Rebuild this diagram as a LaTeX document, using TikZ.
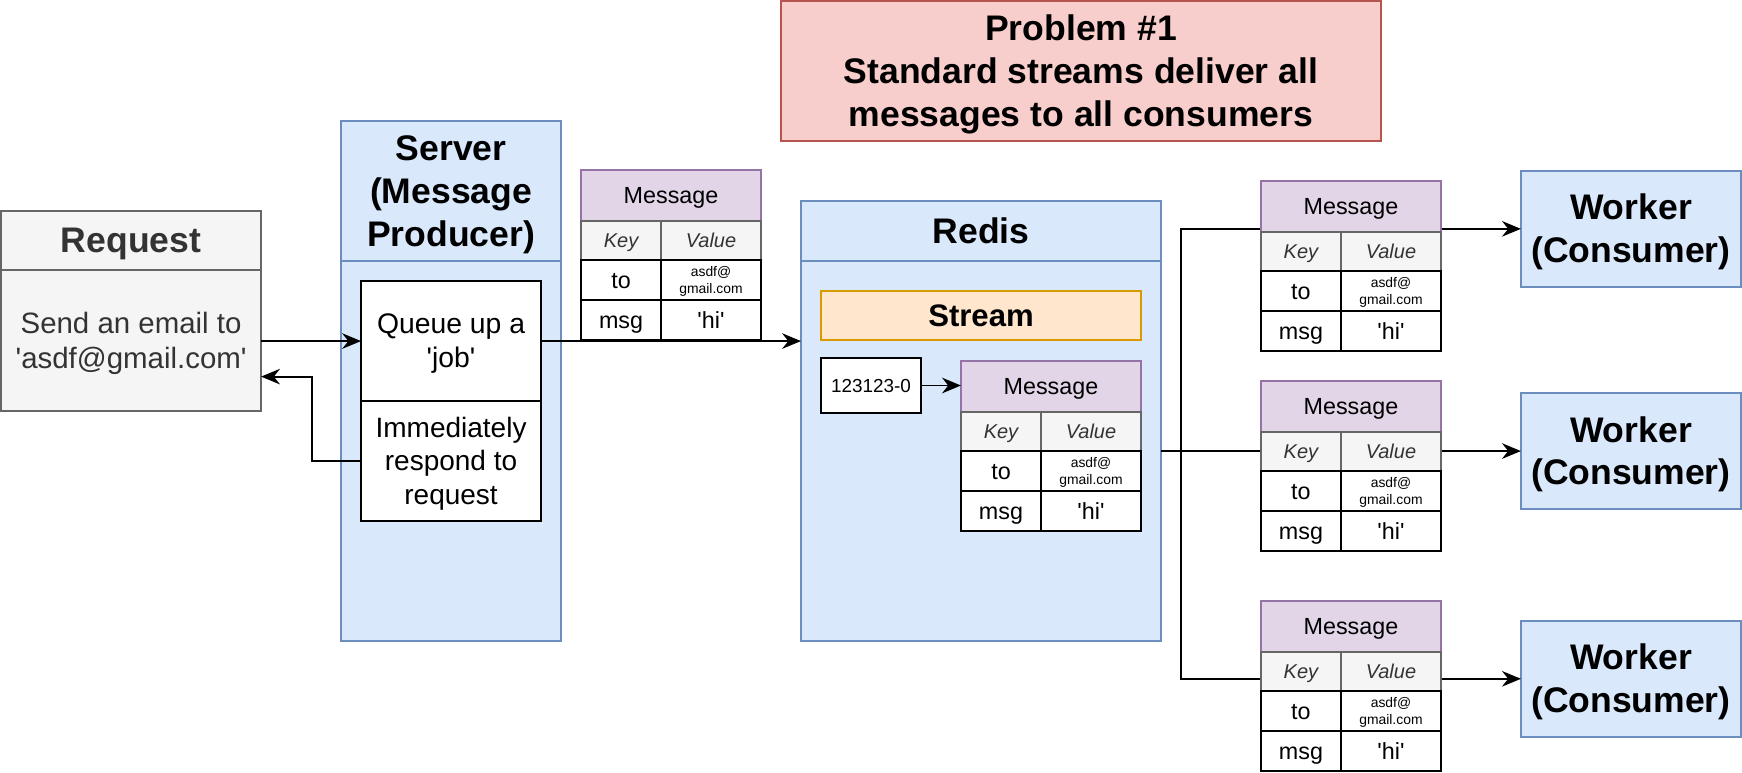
\documentclass[tikz,border=0pt]{standalone}
\usepackage{fontspec}
\setmainfont{Liberation Sans}
\usetikzlibrary{arrows.meta}
\definecolor{greyfill}{HTML}{F5F5F5}
\definecolor{greystroke}{HTML}{666666}
\definecolor{greytext}{HTML}{333333}
\definecolor{bluefill}{HTML}{DAE8FC}
\definecolor{bluestroke}{HTML}{6C8EBF}
\definecolor{purplefill}{HTML}{E1D5E7}
\definecolor{purplestroke}{HTML}{9673A6}
\definecolor{orangefill}{HTML}{FFE6CC}
\definecolor{orangestroke}{HTML}{D79B00}
\definecolor{redfill}{HTML}{F8CECC}
\definecolor{redstroke}{HTML}{B85450}
\newcommand\qt{\textquotesingle}
\newcommand\st{\rule[-0.2535em]{0pt}{1.2em}}
\tikzset{
  box/.style={draw, rectangle, inner sep=0pt, outer sep=0pt, line width=1.7pt, align=center, anchor=north west,
    execute at begin node={\st}, execute at end node={\st}},
  titlef/.style={font=\fontsize{32}{38.4}\selectfont\bfseries},
  bodyf/.style={font=\fontsize{26.5}{31.8}\selectfont},
  bluebox/.style={box, fill=bluefill, draw=bluestroke},
  greybox/.style={box, fill=greyfill, draw=greystroke, text=greytext},
  whitebox/.style={box, fill=white, draw=black},
  hdr/.style={box, fill=purplefill, draw=purplestroke, minimum width=162, minimum height=46, font=\fontsize{21}{25.2}\selectfont},
  kc/.style={box, fill=greyfill, draw=greystroke, text=greytext, minimum height=35, font=\fontsize{18}{21.6}\selectfont\itshape},
  cl/.style={box, fill=white, draw=black, minimum height=36, font=\fontsize{21}{25.2}\selectfont},
  small/.style={font=\fontsize{12.5}{15}\selectfont},
  arr/.style={draw=black, line width=1.7pt, -{Stealth[length=17pt,width=14pt,inset=5.5pt]}}
}
\newcommand\msgtab[3]{%
  \node[hdr] (#1h) at (#2,#3) {Message};
  \node[kc, minimum width=72] (#1k) at (#1h.south west) {Key};
  \node[kc, minimum width=90, anchor=north east] (#1v) at (#1h.south east) {Value};
  \node[cl, minimum width=72] (#1tk) at (#1k.south west) {to};
  \node[cl, minimum width=90, anchor=north east, small] (#1tv) at (#1v.south east) {\st asdf@\\gmail.com\st};
  \node[cl, minimum width=72] (#1mk) at (#1tk.south west) {msg};
  \node[cl, minimum width=90, anchor=north east] (#1mv) at (#1tv.south east) {\qt hi\qt};
}
\begin{document}
\begin{tikzpicture}[x=1pt, y=-1pt]
\useasboundingbox (0,0) rectangle (1568,695);
\fill[white] (0,0) rectangle (1568,695);

% Problem
\node[box, fill=redfill, draw=redstroke, minimum width=540, minimum height=126, titlef] (prob) at (703,1)
  {\st Problem \#1\\Standard streams deliver all\\messages to all consumers\st};

% Request
\node[greybox, minimum width=234, minimum height=53, titlef] (reqh) at (1,190) {Request};
\node[greybox, minimum width=234, minimum height=127, bodyf] (req) at (reqh.south west) {\st Send an email to\\\qt asdf@gmail.com\qt\st};

% Server
\node[bluebox, minimum width=198, minimum height=126, titlef] (srvh) at (307,109) {\st Server\\(Message\\Producer)\st};
\node[bluebox, minimum width=198, minimum height=342] (srv) at (srvh.south west) {};
\node[whitebox, minimum width=162, minimum height=108, font=\fontsize{25.5}{30.6}\selectfont] (q) at (325,253) {\st Queue up a\\\qt job\qt\st};
\node[whitebox, minimum width=162, minimum height=108, font=\fontsize{25.2}{30.24}\selectfont] (resp) at (q.south west) {\st Immediately\\respond to\\request\st};

% Redis
\node[bluebox, minimum width=324, minimum height=54, titlef] (redh) at (721,181) {Redis};
\node[bluebox, minimum width=324, minimum height=342] (redis) at (redh.south west) {};
\node[box, fill=orangefill, draw=orangestroke, minimum width=288, minimum height=44, font=\fontsize{28}{33.6}\selectfont\bfseries] (stream) at (739,262) {Stream};
\node[whitebox, minimum width=90, minimum height=50, font=\fontsize{17}{20.4}\selectfont] (sid) at (739,322) {123123-0};

% Workers
\node[bluebox, minimum width=198, minimum height=104, titlef] (w1) at (1369,154) {\st Worker\\(Consumer)\st};
\node[bluebox, minimum width=198, minimum height=104, titlef] (w2) at (1369,354) {\st Worker\\(Consumer)\st};
\node[bluebox, minimum width=198, minimum height=104, titlef] (w3) at (1369,559) {\st Worker\\(Consumer)\st};

% Connectors
\coordinate (back) at (281,339);
\coordinate (split) at (1063,406);
\draw[arr] (req.east |- q.west) -- (q.west);
\draw[arr] (resp.west) -| (back) -- (req.east |- back);
\draw[arr] (q.east) -- (q.east -| redis.west);
\draw[arr] (redis.east |- w2.west) -- (w2.west);
\draw[arr] (split) |- (w1.west);
\draw[arr] (split) |- (w3.west);

% Message tables
\msgtab{ta}{523}{153}
\msgtab{tb}{865}{325}
\draw[arr] (sid.east) -- (sid.east -| tbh.west);
\msgtab{tc}{1135}{163}
\msgtab{td}{1135}{343}
\msgtab{te}{1135}{541}
\end{tikzpicture}
\end{document}
